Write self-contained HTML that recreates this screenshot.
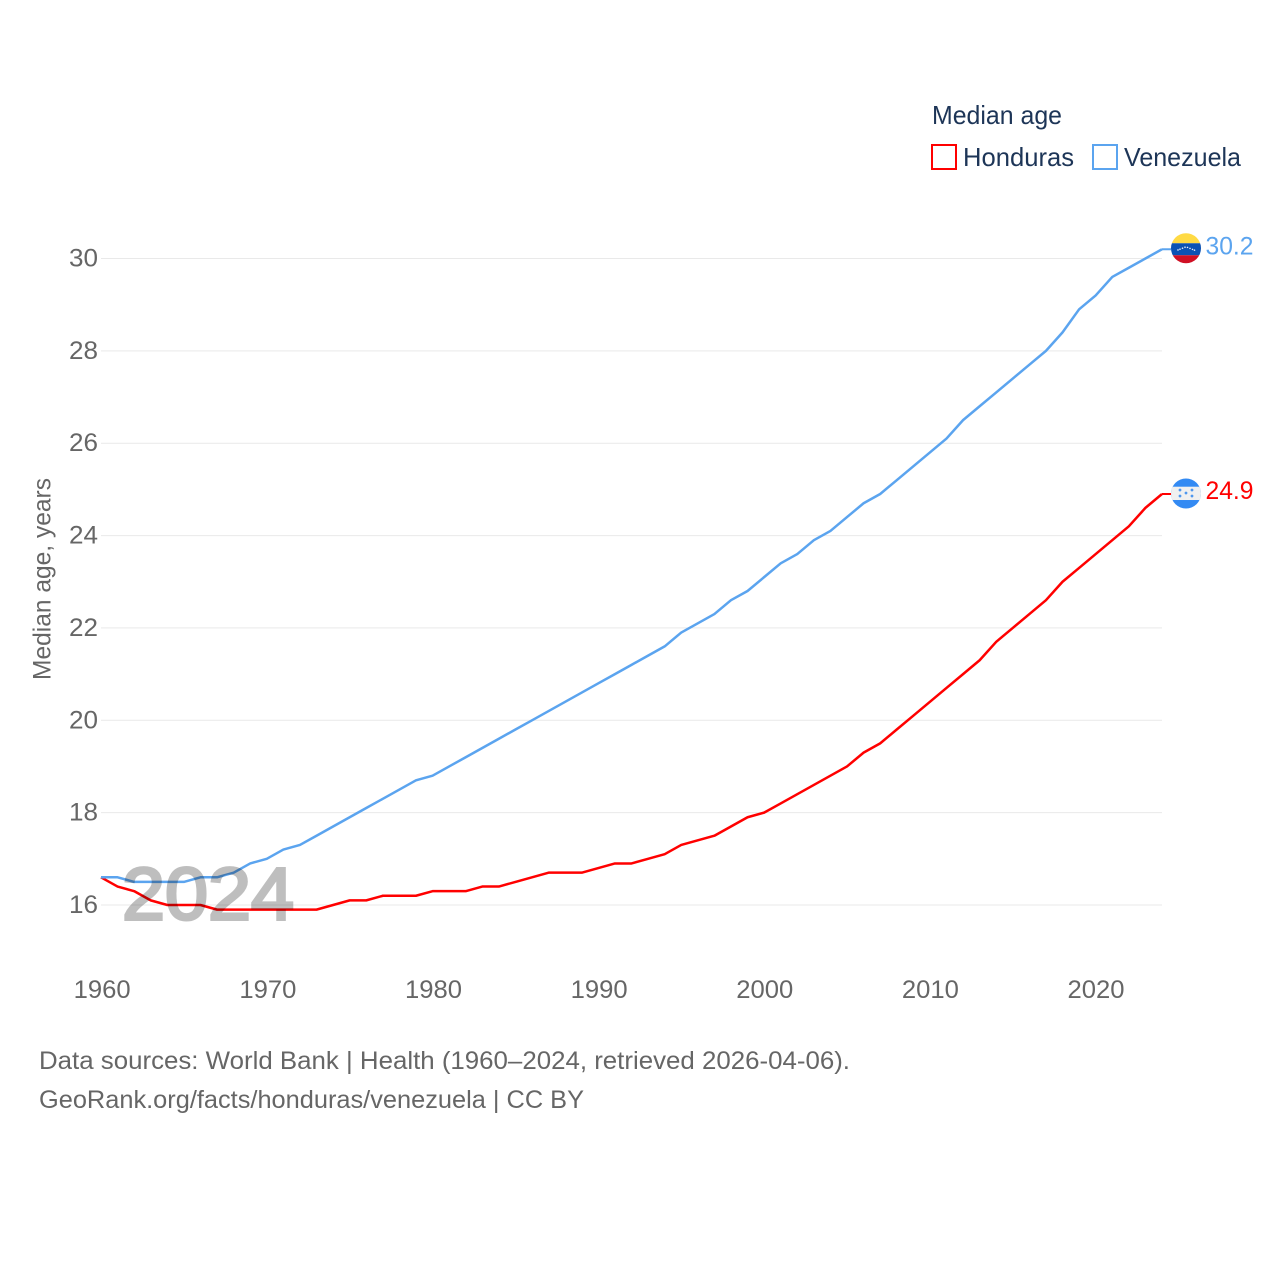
<!DOCTYPE html>
<html lang="en">
<head>
<meta charset="utf-8">
<title>Median age: Honduras and Venezuela</title>
<style>
html,body{margin:0;padding:0;background:#fff;width:1280px;height:1280px;overflow:hidden}
svg{display:block}
text{font-family:"Liberation Sans",sans-serif}
</style>
</head>
<body>
<svg id="chart" xmlns="http://www.w3.org/2000/svg" width="1280" height="1280" viewBox="0 0 1280 1280">
  <defs>
    <clipPath id="flag-clip-ve"><circle id="clip-ve" cx="1186" cy="248" r="15"></circle></clipPath>
    <clipPath id="flag-clip-hn"><circle id="clip-hn" cx="1186" cy="493" r="15"></circle></clipPath>
  </defs>
  <g id="grid"></g>
  <g id="y-ticks"></g>
  <g id="x-ticks"></g>
  <g id="series"></g>
  <g id="ends"></g>
  <text x="122" y="919.7" font-size="74" fill="#000" stroke="#000" stroke-width="3" opacity="0.25" textLength="172" lengthAdjust="spacingAndGlyphs">2024</text>
  <text transform="translate(50.5,680) rotate(-90)" font-size="25" fill="#666" textLength="202" lengthAdjust="spacingAndGlyphs">Median age, years</text>
  <g>
    <text x="932" y="124" font-size="26" fill="#1d3557" textLength="130" lengthAdjust="spacingAndGlyphs">Median age</text>
    <g>
      <rect x="932" y="145" width="24" height="24" fill="#fff" stroke="#ff0000" stroke-width="2"></rect>
      <text x="963" y="166" font-size="26" fill="#1d3557" textLength="111" lengthAdjust="spacingAndGlyphs">Honduras</text>
    </g>
    <g>
      <rect x="1093" y="145" width="24" height="24" fill="#fff" stroke="#5ba4ef" stroke-width="2"></rect>
      <text x="1124" y="166" font-size="26" fill="#1d3557" textLength="117" lengthAdjust="spacingAndGlyphs">Venezuela</text>
    </g>
  </g>
  <g>
    <text x="39" y="1069" font-size="25" fill="#666" textLength="811" lengthAdjust="spacingAndGlyphs">Data sources: World Bank | Health (1960–2024, retrieved 2026-04-06).</text>
    <text x="39" y="1108" font-size="25" fill="#666" textLength="545" lengthAdjust="spacingAndGlyphs">GeoRank.org/facts/honduras/venezuela | CC BY</text>
  </g>
</svg>
<script>
const years = [1960,1961,1962,1963,1964,1965,1966,1967,1968,1969,1970,1971,1972,1973,1974,1975,1976,1977,1978,1979,1980,1981,1982,1983,1984,1985,1986,1987,1988,1989,1990,1991,1992,1993,1994,1995,1996,1997,1998,1999,2000,2001,2002,2003,2004,2005,2006,2007,2008,2009,2010,2011,2012,2013,2014,2015,2016,2017,2018,2019,2020,2021,2022,2023,2024];
const honduras = [16.6,16.4,16.3,16.1,16.0,16.0,16.0,15.9,15.9,15.9,15.9,15.9,15.9,15.9,16.0,16.1,16.1,16.2,16.2,16.2,16.3,16.3,16.3,16.4,16.4,16.5,16.6,16.7,16.7,16.7,16.8,16.9,16.9,17.0,17.1,17.3,17.4,17.5,17.7,17.9,18.0,18.2,18.4,18.6,18.8,19.0,19.3,19.5,19.8,20.1,20.4,20.7,21.0,21.3,21.7,22.0,22.3,22.6,23.0,23.3,23.6,23.9,24.2,24.6,24.9];
const venezuela = [16.6,16.6,16.5,16.5,16.5,16.5,16.6,16.6,16.7,16.9,17.0,17.2,17.3,17.5,17.7,17.9,18.1,18.3,18.5,18.7,18.8,19.0,19.2,19.4,19.6,19.8,20.0,20.2,20.4,20.6,20.8,21.0,21.2,21.4,21.6,21.9,22.1,22.3,22.6,22.8,23.1,23.4,23.6,23.9,24.1,24.4,24.7,24.9,25.2,25.5,25.8,26.1,26.5,26.8,27.1,27.4,27.7,28.0,28.4,28.9,29.2,29.6,29.8,30.0,30.2];
const yTickLabels = [16,18,20,22,24,26,28,30];
const xTickLabels = [1960,1970,1980,1990,2000,2010,2020];

const NS = 'http://www.w3.org/2000/svg';
function xScale(year){ return 101 + (year - 1960) * (1162 - 101) / (2024 - 1960); }
function yScale(value){ return 905 - (value - 16) * (905 - 258.5) / (30 - 16); }
function make(tag, attrs, parent){
  const el = document.createElementNS(NS, tag);
  for (const k in attrs) el.setAttribute(k, attrs[k]);
  parent.appendChild(el);
  return el;
}

const gridG = document.getElementById('grid');
const yG = document.getElementById('y-ticks');
yTickLabels.forEach(function(v){
  const line = make('line', {x1:101, x2:1162, y1:yScale(v), y2:yScale(v), stroke:'#e9e9e9', 'stroke-width':1}, gridG);
  
  
  const t = make('text', {x:98, y:yScale(v)+8, 'text-anchor':'end', 'font-size':25, fill:'#666', textLength:29, lengthAdjust:'spacingAndGlyphs'}, yG);
  
  
  t.textContent = v;
});

const xG = document.getElementById('x-ticks');
xTickLabels.forEach(function(v){
  const t = make('text', {x:xScale(v)+1.2-(v-1960)*0.015, y:998, 'text-anchor':'middle', 'font-size':25, fill:'#666', textLength:57, lengthAdjust:'spacingAndGlyphs'}, xG);
  
  
  t.textContent = v;
});

const seriesG = document.getElementById('series');
function pathFor(vals){
  return vals.map(function(v,i){ return (i ? 'L' : 'M') + xScale(years[i]).toFixed(2) + ' ' + yScale(v).toFixed(2); }).join('');
}
const hnLine = make('path', {d:pathFor(honduras), fill:'none', stroke:'#ff0000', 'stroke-width':2.5, 'stroke-linejoin':'round'}, seriesG);


const veLine = make('path', {d:pathFor(venezuela), fill:'none', stroke:'#5ba4ef', 'stroke-width':2.5, 'stroke-linejoin':'round'}, seriesG);



const endsG = document.getElementById('ends');
const lastX = xScale(years[years.length-1]);

/* Venezuela end marker */
const veVal = venezuela[venezuela.length-1];
const veY = yScale(veVal);
const veConn = make('line', {x1:lastX, x2:lastX+9, y1:veY, y2:veY, stroke:'#5ba4ef', 'stroke-width':2}, endsG);


document.getElementById('clip-ve').setAttribute('cy', veY - 1);
const veFlag = make('g', {'clip-path':'url(#flag-clip-ve)'}, endsG);


make('rect', {x:1171, y:veY-17, width:30, height:11, fill:'#ffda44'}, veFlag);
make('rect', {x:1171, y:veY-6, width:30, height:12, fill:'#0b52b4'}, veFlag);
make('rect', {x:1171, y:veY+6, width:30, height:10, fill:'#d01024'}, veFlag);
[-8,-6,-3.5,-1,1.5,4,6.5,8.5].forEach(function(dx){
  const dot = make('circle', {cx:1186+dx, cy:veY+1.5-(4-Math.abs(dx)/2.5), r:0.8, fill:'#e8eefa'}, veFlag);
  
  
});
const veLabel = make('text', {x:1205.5, y:veY+5, 'font-size':25, fill:'#5ba4ef', textLength:48, lengthAdjust:'spacingAndGlyphs'}, endsG);


veLabel.textContent = veVal.toFixed(1);

/* Honduras end marker */
const hnVal = honduras[honduras.length-1];
const hnY = yScale(hnVal);
const hnConn = make('line', {x1:lastX, x2:lastX+9, y1:hnY, y2:hnY, stroke:'#ff0000', 'stroke-width':2}, endsG);


document.getElementById('clip-hn').setAttribute('cy', hnY - 0.5);
const hnFlag = make('g', {'clip-path':'url(#flag-clip-hn)'}, endsG);


make('rect', {x:1171, y:hnY-16, width:30, height:31, fill:'#338af3'}, hnFlag);
make('rect', {x:1171, y:hnY-7.3, width:30, height:13.3, fill:'#f0f0f0'}, hnFlag);
[[-6,-3.5],[6,-3.5],[0,-0.5],[-6,2.5],[6,2.5]].forEach(function(p){
  const dot = make('circle', {cx:1186+p[0], cy:hnY-0.5+p[1], r:1.4, fill:'#4f97ee'}, hnFlag);
  
  
});
const hnLabel = make('text', {x:1205.5, y:hnY+5, 'font-size':25, fill:'#ff0000', textLength:48, lengthAdjust:'spacingAndGlyphs'}, endsG);


hnLabel.textContent = hnVal.toFixed(1);
</script>
</body>
</html>
